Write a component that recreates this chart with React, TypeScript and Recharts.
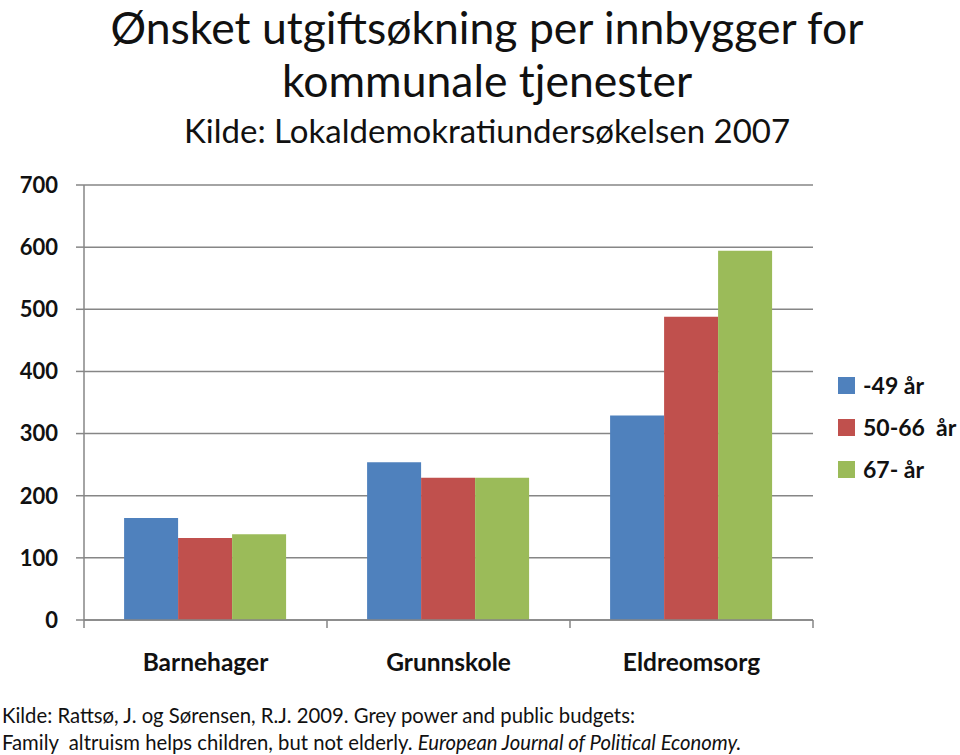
import React from 'react';
import { BarChart, Bar, XAxis, YAxis, CartesianGrid } from 'recharts';

const categories = ['Barnehager', 'Grunnskole', 'Eldreomsorg'];
const young = [164, 254, 329];
const middle = [132, 229, 488];
const old = [138, 229, 594];
const yTicks = [0, 100, 200, 300, 400, 500, 600, 700];

const seriesNames = ['-49 år', '50-66  år', '67- år'];
const colors = ['#4F81BD', '#C0504D', '#9BBB59'];

const data = categories.map((c, i) => ({
    name: c,
    a: young[i],
    b: middle[i],
    c: old[i],
}));

const W = 960;
const H = 755;
const LEFT = 84;
const RIGHT = 147;
const TOP = 185;
const BOTTOM = 135;
const BAND = (W - LEFT - RIGHT) / categories.length;
const FONT = 'Lato, "Open Sans", sans-serif';
const GRID = '#868686';

function CategoryTick(props: any) {
    const { x, y, payload, index } = props;
    const left = x - BAND / 2;
    return (
        <g>
            <line x1={left} y1={y} x2={left} y2={y + 8} stroke={GRID} strokeWidth={1.5} />
            {index === categories.length - 1 && (
                <line x1={left + BAND} y1={y} x2={left + BAND} y2={y + 8} stroke={GRID} strokeWidth={1.5} />
            )}
            <text x={x} y={y + 51} textAnchor="middle" fontFamily={FONT} fontWeight={700} fontSize={24.5} fill="#111">
                {payload.value}
            </text>
        </g>
    );
}

function LegendBox() {
    return (
        <div style={{ fontFamily: FONT, fontWeight: 700, fontSize: 23, color: '#111' }}>
            {seriesNames.map((n, i) => (
                <div key={n} style={{ display: 'flex', alignItems: 'center', height: 42 }}>
                    <span style={{ width: 17, height: 17, background: colors[i], marginRight: 8, display: 'inline-block' }} />
                    <span style={{ whiteSpace: 'pre' }}>{n}</span>
                </div>
            ))}
        </div>
    );
}

export default function App() {
    return (
        <div style={{ position: 'absolute', left: 0, top: 0, width: W, height: H, background: '#fff', overflow: 'hidden' }}>
            <div
                style={{
                    position: 'absolute',
                    left: 0,
                    top: 0,
                    width: 974,
                    textAlign: 'center',
                    fontFamily: FONT,
                    color: '#111',
                }}
            >
                <div style={{ fontSize: 44.5, lineHeight: '54px' }}>Ønsket utgiftsøkning per innbygger for</div>
                <div style={{ fontSize: 44.5, lineHeight: '52px' }}>kommunale tjenester</div>
                <div style={{ fontSize: 33, lineHeight: '48px' }}>Kilde: Lokaldemokratiundersøkelsen 2007</div>
            </div>
            <div style={{ position: 'absolute', left: 0, top: 0 }}>
                <BarChart
                    width={W}
                    height={H}
                    data={data}
                    margin={{ top: TOP, right: RIGHT, bottom: 0, left: 0 }}
                    barCategoryGap="16.5%"
                    barGap={0}
                >
                    <CartesianGrid vertical={false} stroke={GRID} strokeWidth={1.5} />
                    <XAxis
                        dataKey="name"
                        axisLine={{ stroke: GRID, strokeWidth: 1.5 }}
                        tickLine={false}
                        tickSize={0}
                        tickMargin={0}
                        height={BOTTOM}
                        tick={<CategoryTick />}
                        interval={0}
                    />
                    <YAxis
                        width={LEFT}
                        domain={[0, 700]}
                        ticks={yTicks}
                        interval={0}
                        axisLine={{ stroke: GRID, strokeWidth: 1.5 }}
                        tickLine={{ stroke: GRID, strokeWidth: 1.5 }}
                        tickSize={8}
                        tickMargin={18}
                        tick={{ fontFamily: FONT, fontWeight: 700, fontSize: 22, fill: '#111' }}
                    />
                    <Bar dataKey="a" name={seriesNames[0]} fill={colors[0]} isAnimationActive={false} />
                    <Bar dataKey="b" name={seriesNames[1]} fill={colors[1]} isAnimationActive={false} />
                    <Bar dataKey="c" name={seriesNames[2]} fill={colors[2]} isAnimationActive={false} />
                </BarChart>
            </div>
            <div style={{ position: 'absolute', left: 838, top: 364 }}>
                <LegendBox />
            </div>
            <div
                style={{
                    position: 'absolute',
                    left: 2,
                    top: 702,
                    fontFamily: FONT,
                    fontSize: 20.3,
                    lineHeight: '27px',
                    color: '#111',
                    whiteSpace: 'pre',
                }}
            >
                <div>Kilde: Rattsø, J. og Sørensen, R.J. 2009. Grey power and public budgets:</div>
                <div>
                    Family  altruism helps children, but not elderly. <i>European Journal of Political Economy.</i>
                </div>
            </div>
        </div>
    );
}
